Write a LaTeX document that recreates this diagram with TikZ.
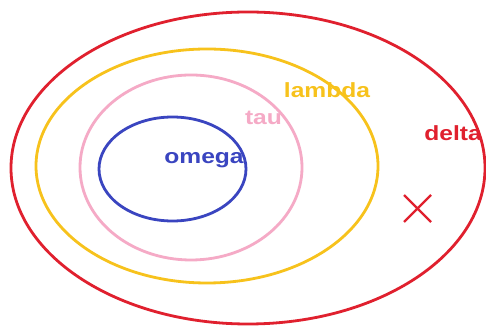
\documentclass[tikz,border=0pt]{standalone}
\usepackage{fontspec}
\setmainfont{Liberation Sans}
\usepackage{xcolor}
\usepackage{tikz}
\definecolor{Delta}{HTML}{E0202E}
\definecolor{Lambda}{HTML}{F7C21C}
\definecolor{Tau}{HTML}{F5AAC6}
\definecolor{Omega}{HTML}{3A45C0}
\tikzset{
  ring/.style={line width=2.8pt},
  setlab/.style={font=\bfseries\fontsize{20.5}{24}\selectfont,xscale=1.2,inner sep=0pt}
}
\begin{document}
\begin{tikzpicture}[x=1pt,y=1pt]
  \useasboundingbox (0,0) rectangle (486,328);
  \fill[white] (0,0) rectangle (486,328);
  % nested sets
  \draw[ring,Delta]  (248,160) ellipse [x radius=237, y radius=156];
  \draw[ring,Lambda] (207,162) ellipse [x radius=171, y radius=117];
  \draw[ring,Tau]    (191,160.5) ellipse [x radius=111, y radius=92.5];
  \draw[ring,Omega]  (172.5,159) ellipse [x radius=73.5, y radius=52];
  % labels
  \node[setlab,Omega]  (omega)  at (204,168) {omega};
  \node[setlab,Tau]    (tau)    at (263.5,210) {tau};
  \node[setlab,Lambda] (lambda) at (327,238) {lambda};
  \node[setlab,Delta]  (delta)  at (453,195) {delta};
  % element x
  \draw[Delta,line width=2.4pt] (404,106) -- (431,133) (404,133) -- (431,106);
\end{tikzpicture}
\end{document}
